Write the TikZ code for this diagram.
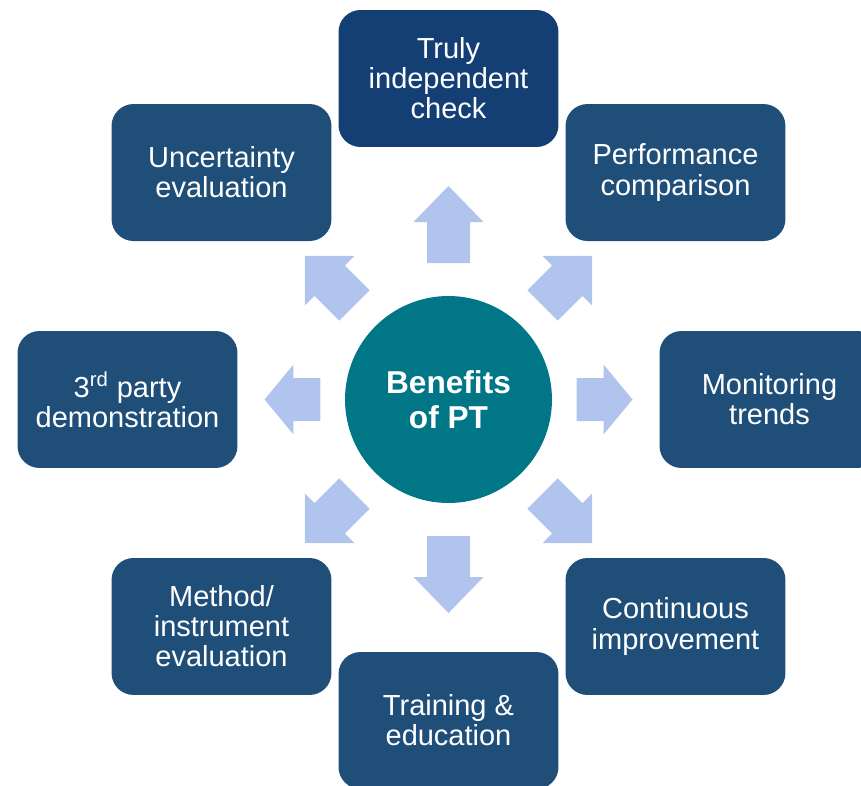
\documentclass[tikz,border=0pt]{standalone}
\usepackage{fontspec}
\setmainfont{Liberation Sans}
\usetikzlibrary{positioning,calc}
\definecolor{boxblue}{RGB}{31,78,121}
\definecolor{topblue}{RGB}{19,63,117}
\definecolor{ptteal}{RGB}{0,118,135}
\definecolor{arrowblue}{RGB}{176,196,238}

\begin{document}
\begin{tikzpicture}[x=0.02cm, y=0.02cm]
\tikzstyle{benefit}=[rectangle, rounded corners=0.44cm, fill=boxblue, text=white, minimum width=4.4cm, minimum height=2.74cm, align=center, font=\fontsize{16.5}{17.1}\selectfont]
\tikzstyle{hub}=[circle, fill=ptteal, text=white, minimum size=4.14cm, align=center, font=\fontsize{18}{20}\selectfont\bfseries]
\tikzstyle{blockarrow}=[fill=arrowblue]
\clip (-448.5,-385.5) rectangle (412.5,399.5);

\node[hub]                   (pt) at (0,0)      {Benefits\\of PT};
\node[benefit, fill=topblue] (1)  at (90:321)   {Truly\\independent\\check};
\node[benefit]               (2)  at (45:321)   {Performance\\comparison};
\node[benefit]               (3)  at (0:321)    {Monitoring\\trends};
\node[benefit]               (4)  at (-45:321)  {Continuous\\improvement};
\node[benefit]               (5)  at (-90:321)  {Training \&\\education};
\node[benefit]               (6)  at (-135:321) {Method/\\instrument\\evaluation};
\node[benefit]               (7)  at (180:321)  {3\textsuperscript{rd} party\\demonstration};
\node[benefit]               (8)  at (135:321)  {Uncertainty\\evaluation};

% block arrows out of the hub
\foreach \ang/\dist/\len/\head in {90/175/77/36, 270/175/77/36, 0/156/56/29, 180/156/56/29,
                                   45/168/70/35, 135/168/70/35, 225/168/70/35, 315/168/70/35}
  \fill[blockarrow, rotate=\ang, shift={(\dist,0)}]
    (-\len/2,-21.5) -- (\len/2-\head,-21.5) -- (\len/2-\head,-35) -- (\len/2,0)
    -- (\len/2-\head,35) -- (\len/2-\head,21.5) -- (-\len/2,21.5) -- cycle;

\end{tikzpicture}
\end{document}
